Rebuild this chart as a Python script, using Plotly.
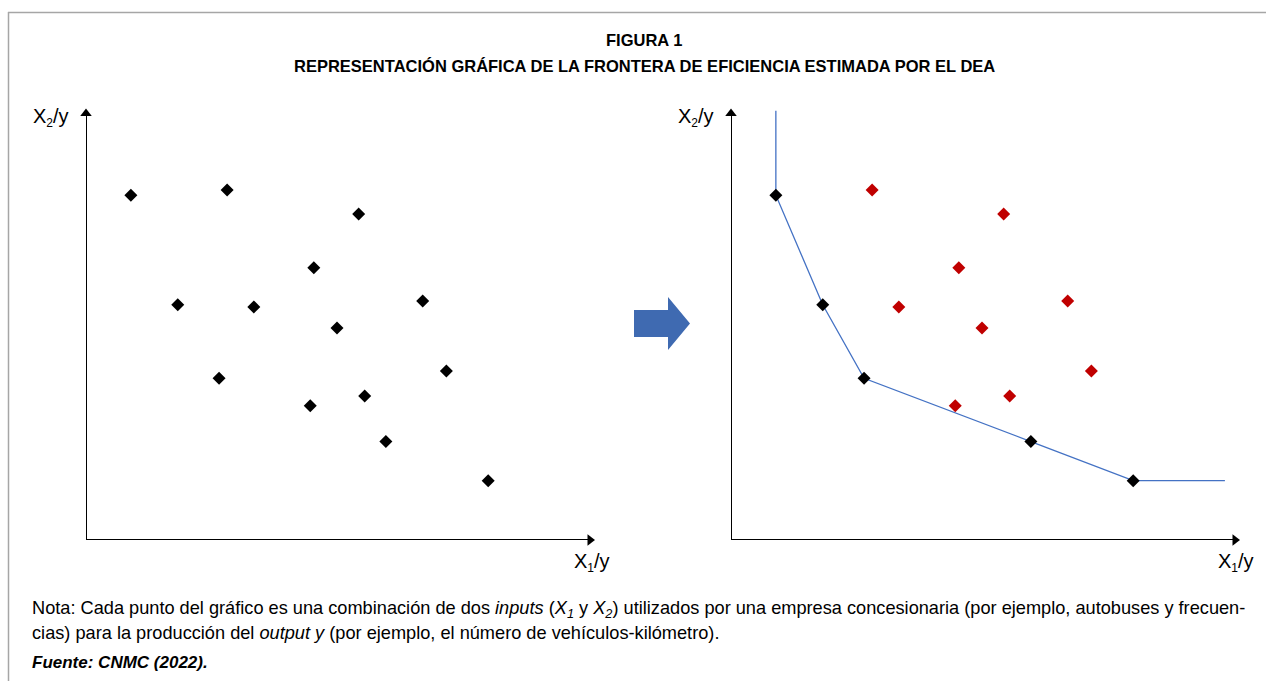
import plotly.graph_objects as go

W, H = 1266, 681

# Data (arbitrary units, axis origin = 0)
eff_x = [8.9, 18.2, 26.4, 59.5, 79.8]
eff_y = [80.2, 54.7, 37.6, 22.9, 13.8]
ineff_x = [28.0, 54.1, 45.2, 33.3, 66.8, 49.8, 71.5, 44.5, 55.3]
ineff_y = [81.4, 75.8, 63.3, 54.2, 55.6, 49.3, 39.3, 31.2, 33.5]
frontier_top_y = 99.8
frontier_end_x = 98.0
axis_x_end = 100.0
axis_y_end = 99.2

all_x = eff_x + ineff_x
all_y = eff_y + ineff_y


def px(x):
    return x / W


def py(y):
    return 1 - y / H


fig = go.Figure()

# Axis lines with arrow heads for both panels
for xa, ya in [("x", "y"), ("x2", "y2")]:
    fig.add_trace(go.Scatter(x=[0, 0], y=[0, axis_y_end], mode="lines", xaxis=xa, yaxis=ya,
                             line=dict(color="black", width=2),
                             showlegend=False, hoverinfo="skip", cliponaxis=False))
    fig.add_trace(go.Scatter(x=[0, axis_x_end], y=[0, 0], mode="lines", xaxis=xa, yaxis=ya,
                             line=dict(color="black", width=2),
                             showlegend=False, hoverinfo="skip", cliponaxis=False))
    fig.add_trace(go.Scatter(x=[0], y=[axis_y_end], mode="markers", xaxis=xa, yaxis=ya,
                             marker=dict(symbol="triangle-up", size=10, color="black"),
                             showlegend=False, hoverinfo="skip", cliponaxis=False))
    fig.add_trace(go.Scatter(x=[axis_x_end], y=[0], mode="markers", xaxis=xa, yaxis=ya,
                             marker=dict(symbol="triangle-right", size=10, color="black"),
                             showlegend=False, hoverinfo="skip", cliponaxis=False))

# Left panel: all points black
fig.add_trace(go.Scatter(x=all_x, y=all_y, mode="markers", xaxis="x", yaxis="y",
                         marker=dict(symbol="diamond", size=10, color="black"),
                         showlegend=False, hoverinfo="skip"))

# Right panel: frontier line
fx = [eff_x[0]] + eff_x + [frontier_end_x]
fy = [frontier_top_y] + eff_y + [eff_y[-1]]
fig.add_trace(go.Scatter(x=fx, y=fy, mode="lines", xaxis="x2", yaxis="y2",
                         line=dict(color="#4472C4", width=1.3),
                         showlegend=False, hoverinfo="skip", cliponaxis=False))
fig.add_trace(go.Scatter(x=ineff_x, y=ineff_y, mode="markers", xaxis="x2", yaxis="y2",
                         marker=dict(symbol="diamond", size=10, color="#C00000"),
                         showlegend=False, hoverinfo="skip"))
fig.add_trace(go.Scatter(x=eff_x, y=eff_y, mode="markers", xaxis="x2", yaxis="y2",
                         marker=dict(symbol="diamond", size=10, color="black"),
                         showlegend=False, hoverinfo="skip"))

ax_common = dict(range=[0, 100], visible=False, fixedrange=True)
fig.update_layout(
    width=W, height=H,
    margin=dict(l=0, r=0, t=0, b=0),
    paper_bgcolor="white", plot_bgcolor="rgba(0,0,0,0)",
    font=dict(family="Liberation Sans, Arial, sans-serif", color="black"),
    xaxis=dict(domain=[px(86), px(590)], anchor="y", **ax_common),
    yaxis=dict(domain=[py(540), py(110)], anchor="x", **ax_common),
    xaxis2=dict(domain=[px(731), px(1235)], anchor="y2", **ax_common),
    yaxis2=dict(domain=[py(540), py(110)], anchor="x2", **ax_common),
)

lab_font = dict(size=20, color="black")
sub = '<sub><span style="font-size:12px">{}</span></sub>'
ann = [
    dict(text="X" + sub.format(2) + "/y", x=px(31), y=py(117), xref="paper", yref="paper",
         xanchor="left", yanchor="middle", showarrow=False, font=lab_font),
    dict(text="X" + sub.format(2) + "/y", x=px(676), y=py(117), xref="paper", yref="paper",
         xanchor="left", yanchor="middle", showarrow=False, font=lab_font),
    dict(text="X" + sub.format(1) + "/y", x=px(572), y=py(562), xref="paper", yref="paper",
         xanchor="left", yanchor="middle", showarrow=False, font=lab_font),
    dict(text="X" + sub.format(1) + "/y", x=px(1216), y=py(562), xref="paper", yref="paper",
         xanchor="left", yanchor="middle", showarrow=False, font=lab_font),
    dict(text="<b>FIGURA 1</b>", x=px(644), y=py(40), xref="paper", yref="paper",
         xanchor="center", yanchor="middle", showarrow=False, font=dict(size=16.5)),
    dict(text="<b>REPRESENTACIÓN GRÁFICA DE LA FRONTERA DE EFICIENCIA ESTIMADA POR EL DEA</b>",
         x=px(644), y=py(66), xref="paper", yref="paper",
         xanchor="center", yanchor="middle", showarrow=False, font=dict(size=16.5)),
    dict(text="Nota: Cada punto del gráfico es una combinación de dos <i>inputs</i> (<i>X<sub>1</sub></i> y <i>X<sub>2</sub></i>) utilizados por una empresa concesionaria (por ejemplo, autobuses y frecuen-",
         x=px(30), y=py(609), xref="paper", yref="paper",
         xanchor="left", yanchor="middle", showarrow=False, font=dict(size=18.2)),
    dict(text="cias) para la producción del <i>output y</i> (por ejemplo, el número de vehículos-kilómetro).",
         x=px(30), y=py(633), xref="paper", yref="paper",
         xanchor="left", yanchor="middle", showarrow=False, font=dict(size=18.2)),
    dict(text="<b><i>Fuente: CNMC (2022).</i></b>",
         x=px(30), y=py(662), xref="paper", yref="paper",
         xanchor="left", yanchor="middle", showarrow=False, font=dict(size=17)),
]
fig.update_layout(annotations=ann)

# Decorative shapes: frame and block arrow
arrow_path = "M {0} {1} L {2} {1} L {2} {3} L {4} {5} L {2} {6} L {2} {7} L {0} {7} Z".format(
    px(634), py(310), px(668), py(297), px(690), py(323.5), py(350), py(337))
fig.update_layout(shapes=[
    dict(type="line", xref="paper", yref="paper", x0=px(8), x1=1, y0=py(12.5), y1=py(12.5),
         line=dict(color="#A6A6A6", width=1.5)),
    dict(type="line", xref="paper", yref="paper", x0=px(8.5), x1=px(8.5), y0=py(12), y1=0,
         line=dict(color="#A6A6A6", width=1.5)),
    dict(type="path", xref="paper", yref="paper", path=arrow_path,
         fillcolor="#3F6AB1", line=dict(width=0)),
])

fig.write_html("out.html", config={"displayModeBar": False},
               post_script="document.body.style.margin='0';document.body.style.overflow='hidden';")
